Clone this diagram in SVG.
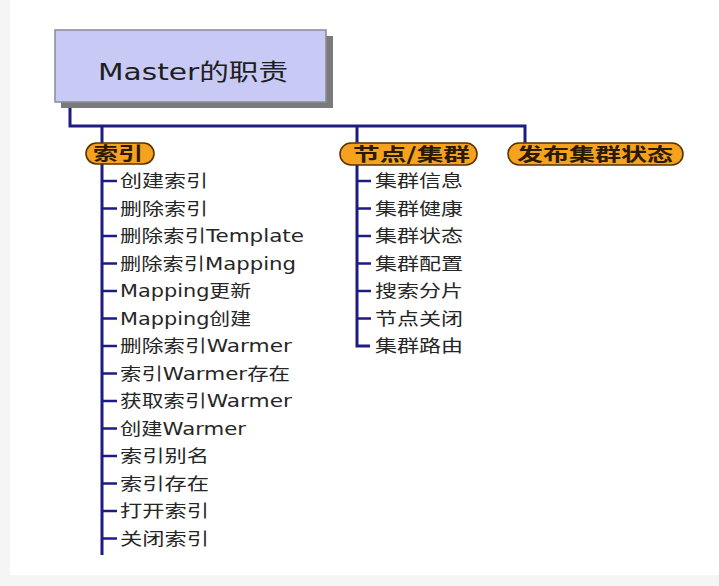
<svg xmlns="http://www.w3.org/2000/svg" width="719" height="586" viewBox="0 0 719 586">
<defs>
<style>
.bg{fill:#f5f5f5}
.page{fill:#ffffff}
.title-shadow{fill:#7a7a7a}
.title-box{fill:#c9c9f5;stroke:#8a8a96;stroke-width:1.5}
.title-text{font-family:"DejaVu Sans","Noto Sans CJK SC",sans-serif;font-size:23px;fill:#1e1e1e}
.pill{fill:#f7a21e;stroke:#5a3300;stroke-width:1.6}
.pill-text{font-family:"Noto Sans CJK SC","DejaVu Sans",sans-serif;font-size:18px;font-weight:bold;fill:#2a1a00}
.item{font-family:"DejaVu Sans","Noto Sans CJK SC",sans-serif;font-size:17px;fill:#262626}
.conn{fill:none;stroke:#1c1c84;stroke-width:3}
.tick{fill:none;stroke:#1c1c84;stroke-width:2.5}
</style>
</defs>
<rect class="bg" x="0" y="0" width="719" height="586"/>
<rect class="page" x="10" y="0" width="709" height="575"/>

<g id="connectors">
<path class="conn" d="M70 102 V126 H525 V143"/>
<path class="conn" d="M102 126 V143"/>
<path class="conn" d="M357 126 V143"/>
<path class="conn" d="M102 164 V555"/>
<path class="conn" d="M357 165 V346 H370"/>
<path class="tick" d="M102 181 H117 M102 208.5 H117 M102 236 H117 M102 263.5 H117 M102 291 H117 M102 318.5 H117 M102 346 H117 M102 373.5 H117 M102 401 H117 M102 428.5 H117 M102 456 H117 M102 483.5 H117 M102 511 H117 M102 538.5 H117"/>
<path class="tick" d="M357 181 H371 M357 208.5 H371 M357 236 H371 M357 263.5 H371 M357 291 H371 M357 318.5 H371"/>
</g>

<g id="master">
<rect class="title-shadow" x="61" y="36" width="272" height="72"/>
<rect class="title-box" x="55" y="30" width="271" height="72"/>
<text class="title-text" x="98" y="80" textLength="190" lengthAdjust="spacingAndGlyphs">Master的职责</text>
</g>

<g id="index">
<rect class="pill" x="86" y="143" width="68" height="21" rx="10.5"/>
<text class="pill-text" x="93" y="160" textLength="50" lengthAdjust="spacingAndGlyphs">索引</text>
</g>
<g id="node-cluster">
<rect class="pill" x="340" y="143" width="137" height="22" rx="11"/>
<text class="pill-text" x="353" y="160.5" textLength="117" lengthAdjust="spacingAndGlyphs">节点/集群</text>
</g>
<g id="publish-state">
<rect class="pill" x="508" y="143" width="175" height="22" rx="11"/>
<text class="pill-text" x="517" y="160.5" textLength="156" lengthAdjust="spacingAndGlyphs">发布集群状态</text>
</g>

<g id="index-items">
<text class="item" x="120" y="187" textLength="88" lengthAdjust="spacingAndGlyphs">创建索引</text>
<text class="item" x="120" y="214.5" textLength="88" lengthAdjust="spacingAndGlyphs">删除索引</text>
<text class="item" x="120" y="242" textLength="184" lengthAdjust="spacingAndGlyphs">删除索引Template</text>
<text class="item" x="120" y="269.5" textLength="176" lengthAdjust="spacingAndGlyphs">删除索引Mapping</text>
<text class="item" x="120" y="297" textLength="131" lengthAdjust="spacingAndGlyphs">Mapping更新</text>
<text class="item" x="120" y="324.5" textLength="131" lengthAdjust="spacingAndGlyphs">Mapping创建</text>
<text class="item" x="120" y="352" textLength="172" lengthAdjust="spacingAndGlyphs">删除索引Warmer</text>
<text class="item" x="120" y="379.5" textLength="170" lengthAdjust="spacingAndGlyphs">索引Warmer存在</text>
<text class="item" x="120" y="407" textLength="172" lengthAdjust="spacingAndGlyphs">获取索引Warmer</text>
<text class="item" x="120" y="434.5" textLength="126" lengthAdjust="spacingAndGlyphs">创建Warmer</text>
<text class="item" x="120" y="462" textLength="89" lengthAdjust="spacingAndGlyphs">索引别名</text>
<text class="item" x="120" y="489.5" textLength="89" lengthAdjust="spacingAndGlyphs">索引存在</text>
<text class="item" x="120" y="517" textLength="89" lengthAdjust="spacingAndGlyphs">打开索引</text>
<text class="item" x="120" y="544.5" textLength="89" lengthAdjust="spacingAndGlyphs">关闭索引</text>
</g>

<g id="cluster-items">
<text class="item" x="375" y="187" textLength="88" lengthAdjust="spacingAndGlyphs">集群信息</text>
<text class="item" x="375" y="214.5" textLength="88" lengthAdjust="spacingAndGlyphs">集群健康</text>
<text class="item" x="375" y="242" textLength="88" lengthAdjust="spacingAndGlyphs">集群状态</text>
<text class="item" x="375" y="269.5" textLength="88" lengthAdjust="spacingAndGlyphs">集群配置</text>
<text class="item" x="375" y="297" textLength="88" lengthAdjust="spacingAndGlyphs">搜索分片</text>
<text class="item" x="375" y="324.5" textLength="88" lengthAdjust="spacingAndGlyphs">节点关闭</text>
<text class="item" x="375" y="352" textLength="88" lengthAdjust="spacingAndGlyphs">集群路由</text>
</g>
</svg>
